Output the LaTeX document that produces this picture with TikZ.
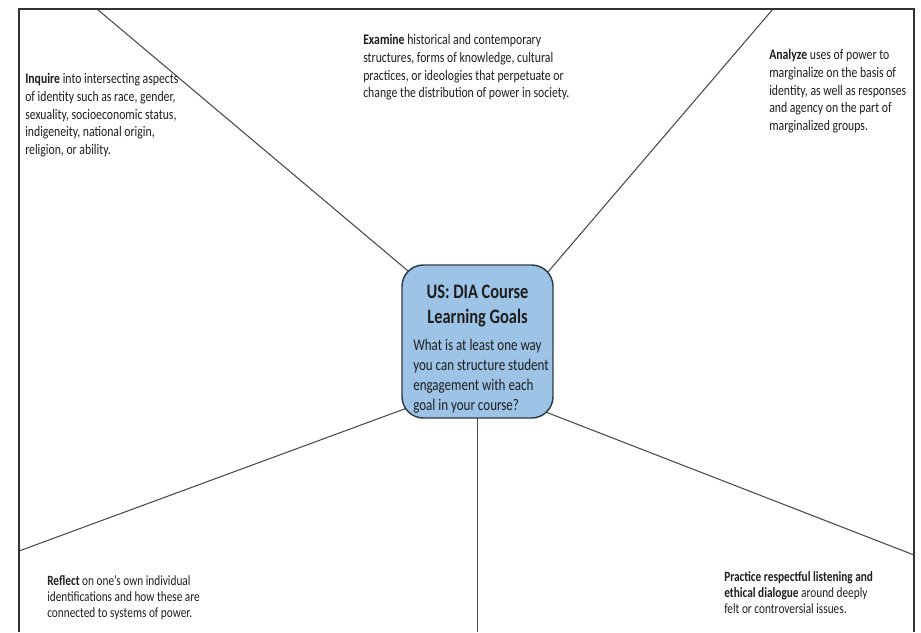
\documentclass[tikz,border=0pt]{standalone}
\usepackage{fontspec}
\setmainfont{Carlito}[FakeStretch=0.8]
\usetikzlibrary{backgrounds}

\definecolor{goalblue}{HTML}{9DC3E6}
\definecolor{goaledge}{HTML}{2E3A46}
\definecolor{spokegray}{HTML}{4A4A4A}
\definecolor{framegray}{HTML}{333333}
\definecolor{inktext}{HTML}{1E1E1E}

\tikzset{
  goalbox/.style={draw=goaledge, fill=goalblue, line width=1.1pt, rounded corners=16pt,
    minimum width=113.25pt, minimum height=114.75pt, inner sep=0pt},
  goaltext/.style={anchor=north west, inner sep=0pt, align=left, text=inktext,
    font=\fontsize{11}{13.3}\selectfont},
  lowtext/.style={goaltext, font=\fontsize{10.6}{12}\selectfont},
  spoke/.style={draw=spokegray, line width=0.8pt, shorten <=-9pt}
}

\begin{document}
\begin{tikzpicture}[x=0.75pt, y=-0.75pt]
	\useasboundingbox (0,0) rectangle (921,632);
	% frame, open at the bottom
	\draw[framegray, line width=0.9pt] (19,632) -- (19,9) -- (914,9) -- (914,632);

	% centre box
	\node[goalbox] (goals) at (477.5,341.5) {};
	\node[anchor=north, inner sep=0pt, align=center, text=inktext,
		font=\fontsize{15.4}{18.75}\selectfont\bfseries] (title) at (477.5,285) {US: DIA Course\\Learning Goals};
	\node[goaltext, font=\fontsize{12.2}{15}\selectfont] (question) at (413,339)
		{What is at least one way\\you can structure student\\engagement with each\\goal in your course?};

	% goals
	\node[goaltext] (inquire) at (25,73) {\textbf{Inquire} into intersecting aspects\\of identity such as race, gender,\\sexuality, socioeconomic status,\\indigeneity, national origin,\\religion, or ability.};
	\node[goaltext] (examine) at (363,34) {\textbf{Examine} historical and contemporary\\structures, forms of knowledge, cultural\\practices, or ideologies that perpetuate or\\change the distribution of power in society.};
	\node[goaltext] (analyze) at (769,49) {\textbf{Analyze} uses of power to\\marginalize on the basis of\\identity, as well as responses\\and agency on the part of\\marginalized groups.};
	\node[lowtext] (reflect) at (47,575) {\textbf{Reflect} on one’s own individual\\identifications and how these are\\connected to systems of power.};
	\node[lowtext] (practice) at (724,571) {\textbf{Practice respectful listening and}\\\textbf{ethical dialogue} around deeply\\felt or controversial issues.};

	% spoke ends on the frame
	\coordinate (inqEnd) at (97,9);
	\coordinate (anaEnd) at (773,9);
	\coordinate (refEnd) at (19,551);
	\coordinate (praEnd) at (914,555);
	\coordinate (botEnd) at (477.5,632);

	\begin{scope}[on background layer]
		\draw[spoke] (goals.135.8) -- (inqEnd);
		\draw[spoke] (goals.45) -- (anaEnd);
		\draw[spoke] (goals.222.6) -- (refEnd);
		\draw[spoke] (goals.316.7) -- (praEnd);
		\draw[spoke] (goals.south) -- (botEnd);
	\end{scope}
\end{tikzpicture}
\end{document}
